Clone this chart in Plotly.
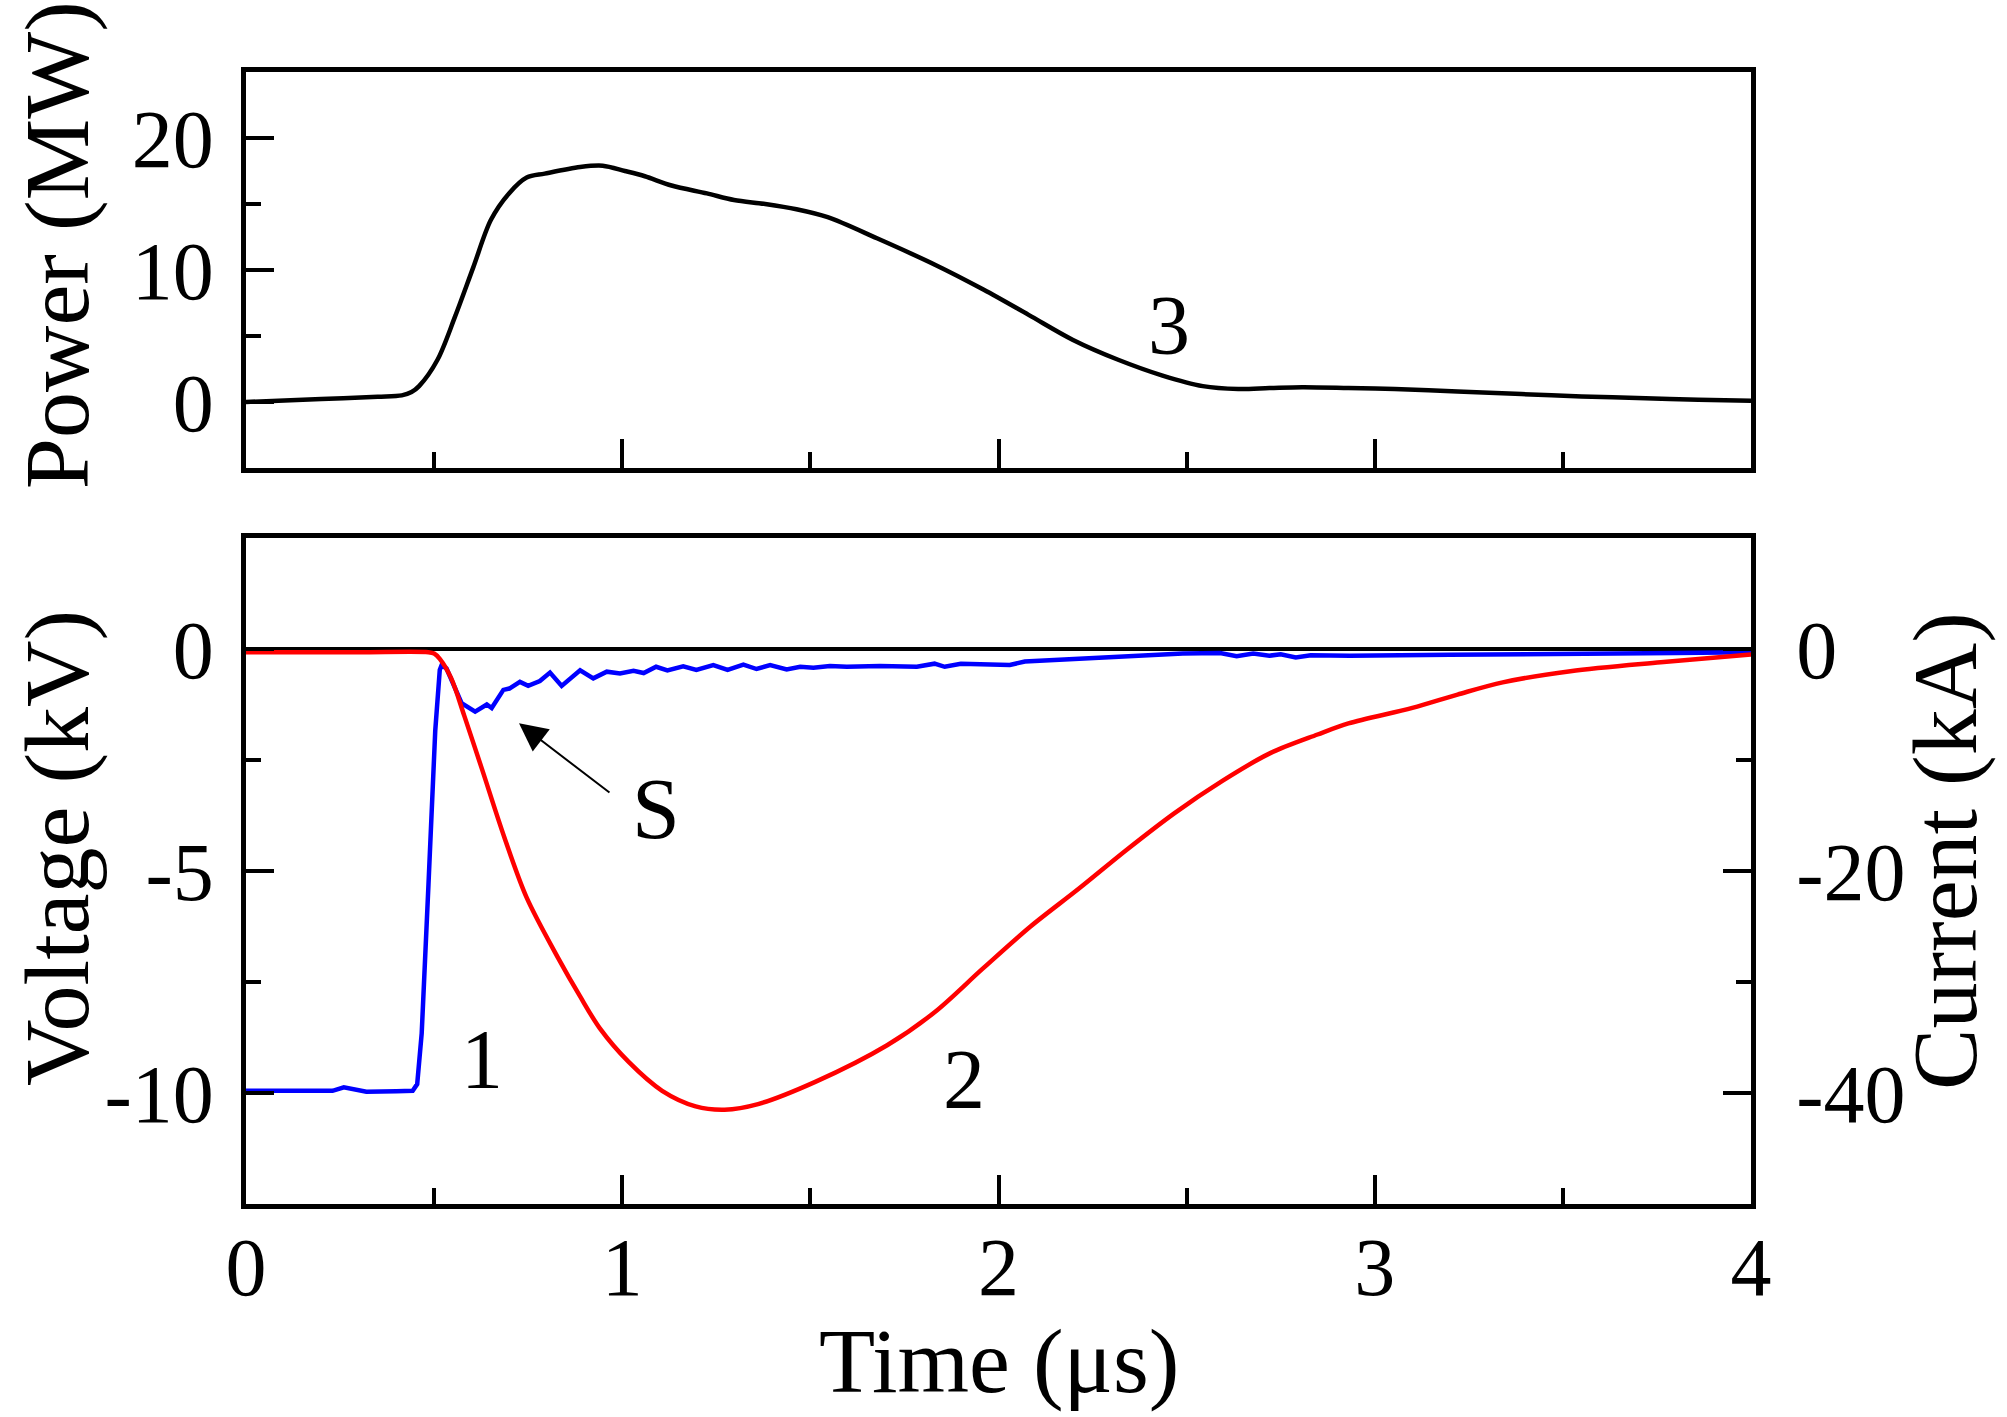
import plotly.graph_objects as go

# ---------------- data ----------------
t_power = [0, 0.2, 0.35, 0.414, 0.44, 0.46, 0.509, 0.556, 0.604, 0.651, 0.699, 0.746, 0.794,
           0.888, 0.948, 1.007, 1.06, 1.131, 1.225, 1.297, 1.38, 1.463, 1.546, 1.677, 1.831,
           1.961, 2.08, 2.198, 2.318, 2.436, 2.543, 2.637, 2.72, 2.807, 2.93, 3.053, 3.22,
           3.39, 3.55, 3.72, 3.86, 4.0]
power_mw = [0, 0.22, 0.4, 0.5, 0.75, 1.2, 3.2, 6.5, 10.2, 13.8, 15.8, 17.0, 17.3,
            17.8, 17.9, 17.5, 17.1, 16.4, 15.8, 15.3, 15.0, 14.6, 14.0, 12.4, 10.4,
            8.5, 6.6, 4.7, 3.2, 2.0, 1.2, 0.98, 1.05, 1.12, 1.06, 0.98, 0.8,
            0.6, 0.42, 0.28, 0.17, 0.1]

t_current = [0, 0.3, 0.485, 0.5, 0.515, 0.545, 0.58, 0.627, 0.687, 0.746, 0.829, 0.888,
             0.941, 1.017, 1.106, 1.195, 1.272, 1.361, 1.513, 1.704, 1.831, 1.958, 2.085,
             2.213, 2.34, 2.467, 2.594, 2.721, 2.848, 2.93, 3.10, 3.22, 3.34, 3.52, 3.76, 4.0]
current_ka = [-0.28, -0.28, -0.28, -0.4, -0.88, -2.6, -6.0, -10.8, -17.0, -22.4, -27.8, -31.3,
              -34.2, -37.2, -39.8, -41.2, -41.5, -41.0, -39.0, -35.7, -32.7, -28.8, -25.0,
              -21.6, -18.1, -14.8, -11.9, -9.4, -7.7, -6.7, -5.3, -4.1, -3.0, -2.0, -1.2, -0.5]

t_voltage = [0, 0.12, 0.2, 0.23, 0.26, 0.29, 0.32, 0.4, 0.443, 0.455, 0.467, 0.485, 0.503,
             0.515, 0.52, 0.533, 0.556, 0.573, 0.609, 0.64, 0.653, 0.684, 0.70, 0.728, 0.75,
             0.781, 0.808, 0.839, 0.888, 0.923, 0.959, 0.994, 1.03, 1.057, 1.09, 1.12, 1.162,
             1.197, 1.242, 1.28, 1.322, 1.357, 1.393, 1.437, 1.473, 1.508, 1.552, 1.597, 1.685,
             1.783, 1.83, 1.857, 1.90, 2.03, 2.07, 2.225, 2.35, 2.49, 2.589, 2.633, 2.677,
             2.72, 2.75, 2.79, 2.83, 2.934, 3.2, 3.5, 3.8, 4.0]
voltage_kv = [-9.95, -9.96, -9.97, -9.95, -9.87, -9.93, -9.97, -9.96, -9.95, -9.8, -8.65, -5.3, -1.84,
              -0.47, -0.36, -0.44, -0.89, -1.22, -1.41, -1.25, -1.33, -0.92, -0.89, -0.74, -0.83,
              -0.72, -0.53, -0.83, -0.48, -0.66, -0.51, -0.55, -0.49, -0.54, -0.40, -0.48, -0.39,
              -0.47, -0.36, -0.47, -0.35, -0.45, -0.36, -0.46, -0.40, -0.42, -0.38, -0.40, -0.38,
              -0.40, -0.33, -0.40, -0.33, -0.36, -0.28, -0.22, -0.16, -0.10, -0.09, -0.16, -0.10,
              -0.15, -0.12, -0.19, -0.14, -0.15, -0.13, -0.12, -0.09, -0.07]

x_ticks = [0, 1, 2, 3, 4]
x_ticktext = ["0", "1", "2", "3", "4"]
x_minor = [0.5, 1.5, 2.5, 3.5]
power_ticks = [0, 10, 20]
power_ticktext = ["0", "10", "20"]
power_minor = [5, 15]
voltage_ticks = [0, -5, -10]
voltage_ticktext = ["0", "-5", "-10"]
voltage_minor = [-2.5, -7.5]
current_ticks = [0, -20, -40]
current_ticktext = ["0", "-20", "-40"]
current_minor = [-10, -30]

# ---------------- figure ----------------
FONT = "Liberation Serif"
TICKFONT = dict(family=FONT, size=82, color="black")
TITLEFONT = dict(family=FONT, size=92, color="black")
LABELFONT = dict(family=FONT, size=84, color="black")
LW = 4.5

fig = go.Figure()
fig.add_trace(go.Scatter(x=t_power, y=power_mw, xaxis="x", yaxis="y", mode="lines",
                         line=dict(color="black", width=LW, shape="spline", smoothing=0.9),
                         showlegend=False))
fig.add_trace(go.Scatter(x=t_voltage, y=voltage_kv, xaxis="x2", yaxis="y2", mode="lines",
                         line=dict(color="#0000ff", width=LW), showlegend=False))
fig.add_trace(go.Scatter(x=t_current, y=current_ka, xaxis="x2", yaxis="y3", mode="lines",
                         line=dict(color="#ff0000", width=LW, shape="spline", smoothing=0.9),
                         showlegend=False))


def minor(vals, length):
    return dict(tickvals=vals, ticks="inside", ticklen=length, tickwidth=4,
                tickcolor="black", showgrid=False)


base = dict(showline=True, linecolor="black", linewidth=4.5, ticks="inside",
            tickcolor="black", tickwidth=4, showgrid=False, zeroline=False,
            tickfont=TICKFONT, tickmode="array")

TOP_DOM = [0.6502, 1.0]
BOT_DOM = [0.0, 0.5883]

fig.update_layout(
    width=2007, height=1417,
    margin=dict(l=246, r=256, t=72, b=213),
    paper_bgcolor="white", plot_bgcolor="white",
    xaxis=dict(base, domain=[0, 1], anchor="y", range=[0, 4], tickvals=x_ticks,
               ticktext=x_ticktext, showticklabels=False, ticklen=29, mirror=True,
               minor=minor(x_minor, 16)),
    yaxis=dict(base, domain=TOP_DOM, anchor="x", range=[-5, 25], tickvals=power_ticks,
               ticktext=power_ticktext, ticklen=28, mirror=True, ticklabelstandoff=11,
               minor=minor(power_minor, 15)),
    xaxis2=dict(base, domain=[0, 1], anchor="y2", range=[0, 4], tickvals=x_ticks,
                ticktext=x_ticktext, ticklen=29, mirror=True, ticklabelstandoff=-12,
                minor=minor(x_minor, 16)),
    yaxis2=dict(base, domain=BOT_DOM, anchor="x2", range=[-12.5, 2.5], tickvals=voltage_ticks,
                ticktext=voltage_ticktext, ticklen=28, ticklabelstandoff=11,
                zeroline=True, zerolinecolor="black", zerolinewidth=3.5,
                minor=minor(voltage_minor, 15)),
    yaxis3=dict(base, overlaying="y2", side="right", anchor="x2", range=[-50, 10],
                tickvals=current_ticks, ticktext=current_ticktext, ticklen=28,
                ticklabelstandoff=24, minor=minor(current_minor, 15)),
)

annotations = [
    # axis titles
    dict(text="Power (MW)", xref="paper", yref="paper", x=-0.1256, y=0.847,
         textangle=-90, showarrow=False, font=TITLEFONT, xanchor="center", yanchor="middle"),
    dict(text="Voltage (kV)", xref="paper", yref="paper", x=-0.1256, y=0.3145,
         textangle=-90, showarrow=False, font=TITLEFONT, xanchor="center", yanchor="middle"),
    dict(text="Current (kA)", xref="paper", yref="paper", x=1.129, y=0.312,
         textangle=-90, showarrow=False, font=TITLEFONT, xanchor="center", yanchor="middle"),
    dict(text="Time (μs)", xref="paper", yref="paper", x=0.5, y=-0.139,
         showarrow=False, font=TITLEFONT, xanchor="center", yanchor="middle"),
    # curve labels
    dict(text="3", xref="x", yref="y", x=2.453, y=5.8, showarrow=False, font=LABELFONT),
    dict(text="1", xref="x2", yref="y2", x=0.627, y=-9.24, showarrow=False, font=LABELFONT),
    dict(text="2", xref="x2", yref="y2", x=1.907, y=-9.7, showarrow=False, font=LABELFONT),
    dict(text="S", xref="x2", yref="y2", x=1.09, y=-3.6, showarrow=False,
         font=dict(family=FONT, size=86, color="black")),
    # arrow pointing at the oscillations
    dict(text="", xref="x2", yref="y2", x=0.7256, y=-1.674, axref="x2", ayref="y2",
         ax=0.970, ay=-3.259, showarrow=True, arrowhead=2, arrowsize=2.8,
         arrowwidth=2, arrowcolor="black"),
]
fig.update_layout(annotations=annotations)

fig.write_html("out.html")
